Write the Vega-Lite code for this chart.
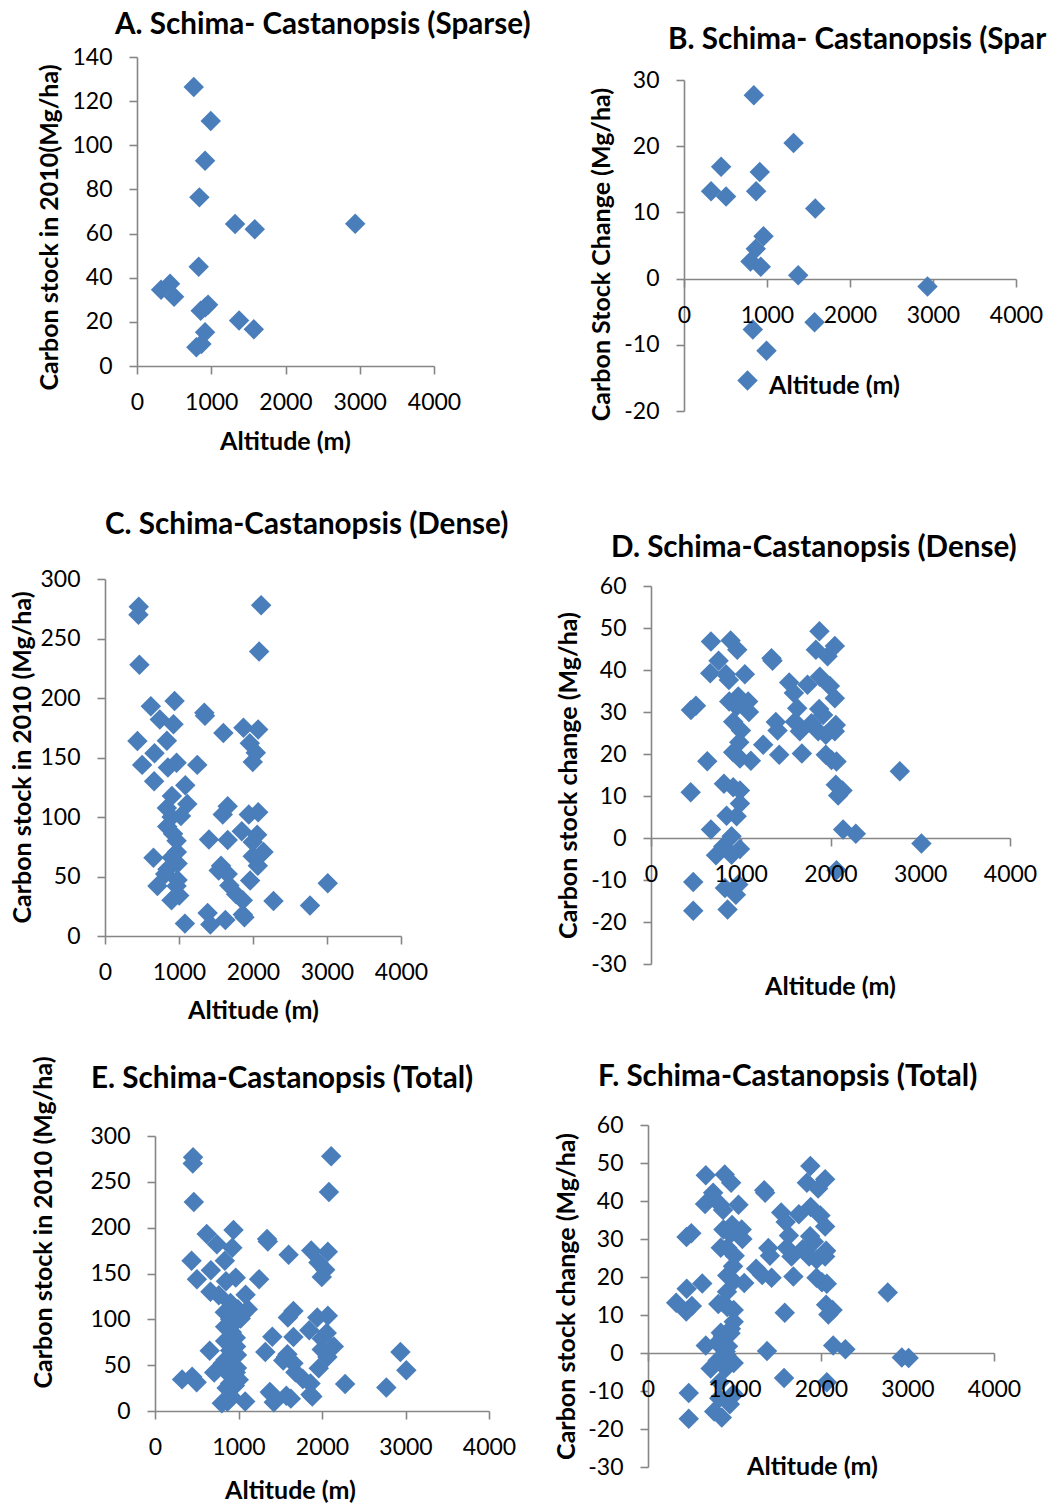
{"$schema":"https://vega.github.io/schema/vega-lite/v6.json","width":1047,"height":1506,"padding":0,"autosize":{"type":"none"},"background":"white",
"config":{"view":{"stroke":null},"font":"Lato","axis":{"grid":false,"domainColor":"#868686","tickColor":"#868686","domainWidth":1.6,"tickWidth":1.6,"tickSize":8,"labelFont":"Lato","labelFontSize":23,"labelColor":"#000000","labelOverlap":false,"labelFlush":false,"labelBound":false,"labelPadding":17,"titleFont":"Lato","titleFontSize":25,"titleFontWeight":"bold","titleColor":"#000000","titleBaseline":"middle","titleAlign":"center"},"point":{"shape":"diamond","filled":true,"size":420,"color":"#4A7EBB","opacity":1},"text":{"font":"Lato","fontWeight":"bold","fontSize":29.6,"align":"left","baseline":"middle","color":"#000000"}},
"datasets":{"points":[
{"p":"A","alt":764,"v":126.4},{"p":"A","alt":993,"v":111},{"p":"A","alt":917,"v":93},{"p":"A","alt":840,"v":76.4},{"p":"A","alt":1321,"v":64.3},{"p":"A","alt":1586,"v":62},{"p":"A","alt":2939,"v":64.4},{"p":"A","alt":831,"v":45},{"p":"A","alt":445,"v":37.3},{"p":"A","alt":324,"v":34.5},{"p":"A","alt":499,"v":31.4},{"p":"A","alt":957,"v":27.7},{"p":"A","alt":858,"v":25},{"p":"A","alt":921,"v":26.6},{"p":"A","alt":1375,"v":20.6},{"p":"A","alt":1573,"v":16.6},{"p":"A","alt":917,"v":15.3},{"p":"A","alt":867,"v":10},{"p":"A","alt":800,"v":8.5},
{"p":"B","alt":841,"v":27.7},{"p":"B","alt":1320,"v":20.5},{"p":"B","alt":447,"v":16.9},{"p":"B","alt":913,"v":16.1},{"p":"B","alt":326,"v":13.2},{"p":"B","alt":869,"v":13.2},{"p":"B","alt":507,"v":12.4},{"p":"B","alt":1581,"v":10.6},{"p":"B","alt":958,"v":6.4},{"p":"B","alt":865,"v":4.5},{"p":"B","alt":801,"v":2.6},{"p":"B","alt":925,"v":1.8},{"p":"B","alt":1376,"v":0.5},{"p":"B","alt":2934,"v":-1.2},{"p":"B","alt":829,"v":-7.7},{"p":"B","alt":1573,"v":-6.6},{"p":"B","alt":994,"v":-10.9},{"p":"B","alt":765,"v":-15.4},
{"p":"C","alt":456,"v":276.7},{"p":"C","alt":452,"v":270},{"p":"C","alt":465,"v":228},{"p":"C","alt":2110,"v":278},{"p":"C","alt":2083,"v":239},{"p":"C","alt":940,"v":197.5},{"p":"C","alt":619,"v":193},{"p":"C","alt":1342,"v":187.6},{"p":"C","alt":1351,"v":185},{"p":"C","alt":741,"v":182},{"p":"C","alt":926,"v":178},{"p":"C","alt":1600,"v":170.5},{"p":"C","alt":1871,"v":175},{"p":"C","alt":2070,"v":173.6},{"p":"C","alt":438,"v":163.8},{"p":"C","alt":836,"v":164},{"p":"C","alt":1957,"v":162},{"p":"C","alt":2038,"v":154},{"p":"C","alt":669,"v":153.6},{"p":"C","alt":502,"v":143.8},{"p":"C","alt":967,"v":145.5},{"p":"C","alt":850,"v":141.6},{"p":"C","alt":1247,"v":143.8},{"p":"C","alt":1997,"v":146.3},{"p":"C","alt":664,"v":130},{"p":"C","alt":1085,"v":126.7},{"p":"C","alt":904,"v":117.7},{"p":"C","alt":1112,"v":111},{"p":"C","alt":836,"v":107.6},{"p":"C","alt":1026,"v":100.8},{"p":"C","alt":1658,"v":109},{"p":"C","alt":1591,"v":102},{"p":"C","alt":2070,"v":104},{"p":"C","alt":1943,"v":102},{"p":"C","alt":840,"v":92},{"p":"C","alt":900,"v":100},{"p":"C","alt":967,"v":80},{"p":"C","alt":920,"v":86},{"p":"C","alt":1405,"v":81},{"p":"C","alt":1658,"v":80.6},{"p":"C","alt":1848,"v":88},{"p":"C","alt":2056,"v":85},{"p":"C","alt":1997,"v":79},{"p":"C","alt":2142,"v":70.5},{"p":"C","alt":655,"v":65.7},{"p":"C","alt":971,"v":70.5},{"p":"C","alt":1997,"v":67},{"p":"C","alt":981,"v":61},{"p":"C","alt":1568,"v":59},{"p":"C","alt":2065,"v":59},{"p":"C","alt":1536,"v":55},{"p":"C","alt":845,"v":56},{"p":"C","alt":900,"v":66},{"p":"C","alt":1658,"v":52},{"p":"C","alt":813,"v":52},{"p":"C","alt":981,"v":47},{"p":"C","alt":1961,"v":46.6},{"p":"C","alt":1681,"v":42.4},{"p":"C","alt":709,"v":42},{"p":"C","alt":1003,"v":34},{"p":"C","alt":967,"v":42},{"p":"C","alt":1771,"v":35},{"p":"C","alt":1862,"v":30},{"p":"C","alt":899,"v":30},{"p":"C","alt":2277,"v":29.5},{"p":"C","alt":2770,"v":25.6},{"p":"C","alt":3010,"v":44.4},{"p":"C","alt":1387,"v":19.4},{"p":"C","alt":1627,"v":13.5},{"p":"C","alt":1423,"v":9.6},{"p":"C","alt":1080,"v":10.4},{"p":"C","alt":1862,"v":18},{"p":"C","alt":1884,"v":15.7},
{"p":"D","alt":1877,"v":49.2},{"p":"D","alt":668,"v":46.8},{"p":"D","alt":887,"v":47},{"p":"D","alt":961,"v":44.8},{"p":"D","alt":1837,"v":44.8},{"p":"D","alt":2048,"v":45.7},{"p":"D","alt":1967,"v":43.3},{"p":"D","alt":1343,"v":42.8},{"p":"D","alt":1354,"v":42.2},{"p":"D","alt":753,"v":42.2},{"p":"D","alt":660,"v":39.2},{"p":"D","alt":1046,"v":39},{"p":"D","alt":835,"v":39},{"p":"D","alt":868,"v":37.6},{"p":"D","alt":1881,"v":38.4},{"p":"D","alt":1540,"v":37},{"p":"D","alt":1744,"v":36.5},{"p":"D","alt":1993,"v":36.2},{"p":"D","alt":1592,"v":34.5},{"p":"D","alt":2048,"v":33.3},{"p":"D","alt":501,"v":31.5},{"p":"D","alt":445,"v":30.5},{"p":"D","alt":972,"v":33.7},{"p":"D","alt":872,"v":32.5},{"p":"D","alt":1083,"v":32.5},{"p":"D","alt":954,"v":31.3},{"p":"D","alt":1091,"v":30},{"p":"D","alt":1629,"v":30.9},{"p":"D","alt":1874,"v":30.7},{"p":"D","alt":1918,"v":29.3},{"p":"D","alt":916,"v":27.7},{"p":"D","alt":1391,"v":27.6},{"p":"D","alt":1603,"v":27.7},{"p":"D","alt":1788,"v":27.3},{"p":"D","alt":2059,"v":26.9},{"p":"D","alt":1659,"v":25.4},{"p":"D","alt":1002,"v":25.6},{"p":"D","alt":1410,"v":25.6},{"p":"D","alt":1863,"v":25.4},{"p":"D","alt":2048,"v":25.4},{"p":"D","alt":1948,"v":24.6},{"p":"D","alt":983,"v":22.8},{"p":"D","alt":1250,"v":22.2},{"p":"D","alt":916,"v":20.4},{"p":"D","alt":1429,"v":19.8},{"p":"D","alt":1681,"v":20.1},{"p":"D","alt":991,"v":18.9},{"p":"D","alt":1113,"v":18.4},{"p":"D","alt":1948,"v":19.8},{"p":"D","alt":2067,"v":18.2},{"p":"D","alt":627,"v":18.3},{"p":"D","alt":2011,"v":18.6},{"p":"D","alt":2772,"v":15.9},{"p":"D","alt":813,"v":12.9},{"p":"D","alt":2059,"v":12.7},{"p":"D","alt":916,"v":12.1},{"p":"D","alt":991,"v":11.3},{"p":"D","alt":442,"v":10.9},{"p":"D","alt":2134,"v":11.3},{"p":"D","alt":2085,"v":10.1},{"p":"D","alt":991,"v":8.2},{"p":"D","alt":842,"v":5.3},{"p":"D","alt":954,"v":5.2},{"p":"D","alt":668,"v":2},{"p":"D","alt":2141,"v":2},{"p":"D","alt":2282,"v":1},{"p":"D","alt":898,"v":0.4},{"p":"D","alt":3013,"v":-1.3},{"p":"D","alt":805,"v":-2},{"p":"D","alt":991,"v":-2.6},{"p":"D","alt":898,"v":-4},{"p":"D","alt":724,"v":-4.1},{"p":"D","alt":2067,"v":-7.7},{"p":"D","alt":471,"v":-10.5},{"p":"D","alt":972,"v":-11.1},{"p":"D","alt":824,"v":-11.9},{"p":"D","alt":946,"v":-13.5},{"p":"D","alt":471,"v":-17.3},{"p":"D","alt":853,"v":-17}
]},
"resolve":{"scale":{"x":"independent","y":"independent"},"axis":{"x":"independent","y":"independent"}},
"layer":[
{"layer":[
{"data":{"name":"points"},"transform":[{"filter":{"field":"p","oneOf":["A"]}}],"mark":{"type":"point"},
"encoding":{"x":{"field":"alt","type":"quantitative","scale":{"domain":[0,4000],"range":[137,434],"nice":false,"zero":false},"axis":{"orient":"bottom","offset":-1140,"values":[0,1000,2000,3000,4000],"labelExpr":"''+datum.value","title":"Altitude (m)","titleX":285,"titleY":75}},"y":{"field":"v","type":"quantitative","scale":{"domain":[0,140],"range":[366,57],"nice":false,"zero":false},"axis":{"orient":"left","offset":-137,"values":[0,20,40,60,80,100,120,140],"labelExpr":"''+datum.value","title":"Carbon stock in 2010(Mg/ha)","titleX":-88,"titleY":227}}}},
{"data":{"values":[{"t":"A. Schima- Castanopsis (Sparse)"}]},"mark":{"type":"text"},"encoding":{"x":{"datum":-296,"type":"quantitative"},"y":{"datum":154.7,"type":"quantitative"},"text":{"field":"t"}}}
]},
{"data":{"name":"points"},"transform":[{"filter":{"field":"p","oneOf":["B"]}}],"mark":{"type":"point"},
"encoding":{"x":{"field":"alt","type":"quantitative","scale":{"domain":[0,4000],"range":[684,1016],"nice":false,"zero":false},"axis":{"orient":"bottom","offset":-1227,"values":[0,1000,2000,3000,4000],"labels":false,"title":"Altitude (m)","titleX":834,"titleY":106}},"y":{"field":"v","type":"quantitative","scale":{"domain":[-20,30],"range":[411,80],"nice":false,"zero":false},"axis":{"orient":"left","offset":-684,"values":[-20,-10,0,10,20,30],"labelExpr":"''+datum.value","title":"Carbon Stock Change (Mg/ha)","titleX":-83,"titleY":254}}}},
{"data":{"values":[{"t":"B. Schima- Castanopsis (Sparse)"}]},"mark":{"type":"text"},"encoding":{"x":{"datum":-193,"type":"quantitative","scale":{"domain":[0,4000],"range":[684,1016],"nice":false,"zero":false},"axis":{"orient":"bottom","offset":-1227,"zindex":1,"domain":false,"tickOpacity":0,"values":[0,1000,2000,3000,4000],"labelExpr":"''+datum.value","title":null}},"y":{"datum":36,"type":"quantitative","scale":{"domain":[-20,30],"range":[411,80],"nice":false,"zero":false},"axis":{"orient":"left","domain":false,"ticks":false,"labels":false,"title":null}},"text":{"field":"t"}}},
{"layer":[
{"data":{"name":"points"},"transform":[{"filter":{"field":"p","oneOf":["C"]}}],"mark":{"type":"point"},
"encoding":{"x":{"field":"alt","type":"quantitative","scale":{"domain":[0,4000],"range":[105,401],"nice":false,"zero":false},"axis":{"orient":"bottom","offset":-570,"values":[0,1000,2000,3000,4000],"labelExpr":"''+datum.value","title":"Altitude (m)","titleX":253,"titleY":74}},"y":{"field":"v","type":"quantitative","scale":{"domain":[0,300],"range":[936,579],"nice":false,"zero":false},"axis":{"orient":"left","offset":-105,"values":[0,50,100,150,200,250,300],"labelExpr":"''+datum.value","title":"Carbon stock in 2010 (Mg/ha)","titleX":-83,"titleY":757}}}},
{"data":{"values":[{"t":"C. Schima-Castanopsis (Dense)"}]},"mark":{"type":"text"},"encoding":{"x":{"datum":0,"type":"quantitative"},"y":{"datum":345.5,"type":"quantitative"},"text":{"field":"t"}}}
]},
{"data":{"name":"points"},"transform":[{"filter":{"field":"p","oneOf":["D"]}}],"mark":{"type":"point"},
"encoding":{"x":{"field":"alt","type":"quantitative","scale":{"domain":[0,4000],"range":[651,1010],"nice":false,"zero":false},"axis":{"orient":"bottom","offset":-668,"values":[0,1000,2000,3000,4000],"labels":false,"title":"Altitude (m)","titleX":830,"titleY":148}},"y":{"field":"v","type":"quantitative","scale":{"domain":[-30,60],"range":[964,586],"nice":false,"zero":false},"axis":{"orient":"left","offset":-651,"values":[-30,-20,-10,0,10,20,30,40,50,60],"labelExpr":"''+datum.value","title":"Carbon stock change (Mg/ha)","titleX":-83,"titleY":775}}}},
{"data":{"values":[{"t":"D. Schima-Castanopsis (Dense)"}]},"mark":{"type":"text"},"encoding":{"x":{"datum":-446,"type":"quantitative","scale":{"domain":[0,4000],"range":[651,1010],"nice":false,"zero":false},"axis":{"orient":"bottom","offset":-668,"zindex":1,"domain":false,"tickOpacity":0,"values":[0,1000,2000,3000,4000],"labelExpr":"''+datum.value","title":null}},"y":{"datum":69.1,"type":"quantitative","scale":{"domain":[-30,60],"range":[964,586],"nice":false,"zero":false},"axis":{"orient":"left","domain":false,"ticks":false,"labels":false,"title":null}},"text":{"field":"t"}}},
{"layer":[
{"data":{"name":"points"},"transform":[{"filter":{"field":"p","oneOf":["A","C"]}}],"mark":{"type":"point"},
"encoding":{"x":{"field":"alt","type":"quantitative","scale":{"domain":[0,4000],"range":[155,489],"nice":false,"zero":false},"axis":{"orient":"bottom","offset":-95,"values":[0,1000,2000,3000,4000],"labelExpr":"''+datum.value","title":"Altitude (m)","titleX":290,"titleY":79}},"y":{"field":"v","type":"quantitative","scale":{"domain":[0,300],"range":[1411,1136],"nice":false,"zero":false},"axis":{"orient":"left","offset":-155,"values":[0,50,100,150,200,250,300],"labelExpr":"''+datum.value","title":"Carbon stock in 2010 (Mg/ha)","titleX":-112,"titleY":1222}}}},
{"data":{"values":[{"t":"E. Schima-Castanopsis (Total)"}]},"mark":{"type":"text"},"encoding":{"x":{"datum":-766,"type":"quantitative"},"y":{"datum":362.5,"type":"quantitative"},"text":{"field":"t"}}}
]},
{"data":{"name":"points"},"transform":[{"filter":{"field":"p","oneOf":["B","D"]}}],"mark":{"type":"point"},
"encoding":{"x":{"field":"alt","type":"quantitative","scale":{"domain":[0,4000],"range":[648,994],"nice":false,"zero":false},"axis":{"orient":"bottom","offset":-153,"values":[0,1000,2000,3000,4000],"labels":false,"title":"Altitude (m)","titleX":812,"titleY":113}},"y":{"field":"v","type":"quantitative","scale":{"domain":[-30,60],"range":[1467,1125],"nice":false,"zero":false},"axis":{"orient":"left","offset":-648,"values":[-30,-20,-10,0,10,20,30,40,50,60],"labelExpr":"''+datum.value","title":"Carbon stock change (Mg/ha)","titleX":-82,"titleY":1296}}}},
{"data":{"values":[{"t":"F. Schima-Castanopsis (Total)"}]},"mark":{"type":"text"},"encoding":{"x":{"datum":-578,"type":"quantitative","scale":{"domain":[0,4000],"range":[648,994],"nice":false,"zero":false},"axis":{"orient":"bottom","offset":-153,"zindex":1,"domain":false,"tickOpacity":0,"values":[0,1000,2000,3000,4000],"labelExpr":"''+datum.value","title":null}},"y":{"datum":72.6,"type":"quantitative","scale":{"domain":[-30,60],"range":[1467,1125],"nice":false,"zero":false},"axis":{"orient":"left","domain":false,"ticks":false,"labels":false,"title":null}},"text":{"field":"t"}}}
]}
